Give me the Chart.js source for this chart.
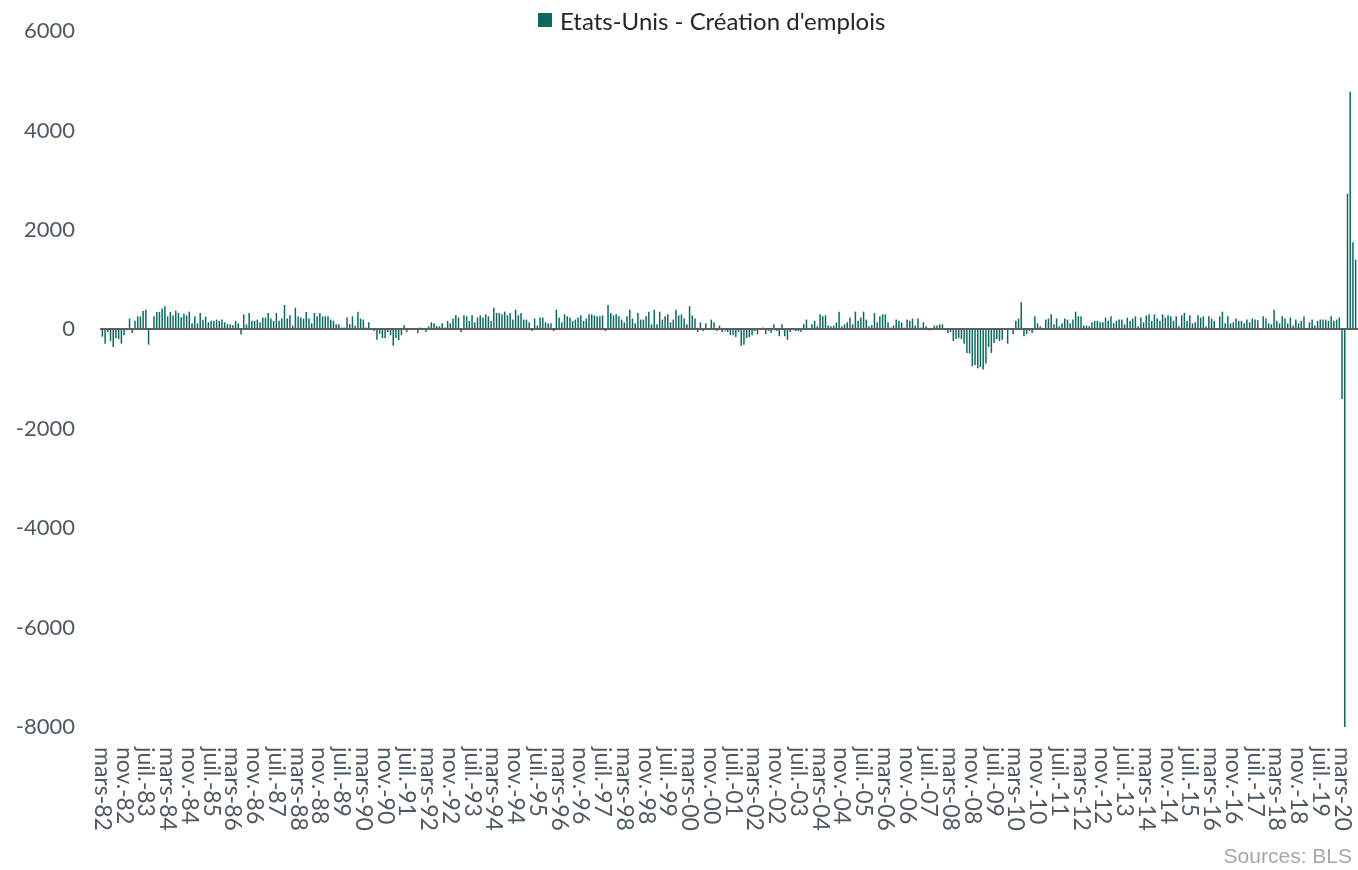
<!DOCTYPE html>
<html lang="fr">
<head>
<meta charset="utf-8">
<title>Etats-Unis - Création d'emplois</title>
<script src="https://cdn.jsdelivr.net/npm/chart.js@4.4.0/dist/chart.umd.min.js"></script>
<style>
  html, body { margin: 0; padding: 0; background: #fff; }
  #cadre { position: relative; width: 1358px; height: 870px; }
  #legende { position: absolute; left: 538px; top: 5px; height: 30px; display: flex; align-items: center;
             font: 24px Lato, sans-serif; color: #262626; white-space: nowrap; }
  #legende .carre { width: 14px; height: 14px; background: #0b6a5f; margin-right: 8px; }
  #source { position: absolute; right: 6px; top: 844px; font: 21px "Liberation Sans", Arial, sans-serif; color: #a6a6a6; }
</style>
</head>
<body>
<div id="cadre">
  <canvas id="graphEmplois" width="1358" height="870"></canvas>
  <div id="legende"><span class="carre"></span>Etats-Unis - Création d'emplois</div>
  <div id="source">Sources: BLS</div>
</div>
<script>
// création d'emplois mensuelle (milliers), de mars-82 à août-20

const creations1982_1988 = [-150, -290, -55, -235, -355, -175, -195, -290, -120, -20, 215, -75, 170, 260, 260, 370, 395, -310, 0, 260,
    350, 350, 420, 465, 260, 350, 280, 375, 330, 240, 310, 280, 355, 120, 260, 120, 330, 190, 255, 140,
    170, 170, 195, 170, 195, 140, 100, 100, 80, 170, 120, -105, 300, 100, 330, 170, 170, 195, 140, 235,
    235, 330, 215, 170, 330, 170, 215, 490, 215, 280, 75, 435, 255, 235, 215, 350, 215, 120, 330]; // mars-82 -> sept.-88

const creations1988_1995 = [260, 330, 260, 260, 260, 195, 170, 100, 100, 35, 35, 235, 100, 260, 75, 355, 215, 195, 35, 140,
    5, -35, -210, -90, -175, -175, -55, -120, -330, -175, -220, -120, 80, -55, -10, 10, -10, -75, 35, 0,
    -55, 60, 140, 120, 60, 60, 120, 35, 170, 120, 215, 280, 235, -55, 280, 260, 170, 280, 140, 235,
    280, 235, 300, 260, 170, 435, 330, 330, 300, 355, 280, 330, 195, 395, 280, 330, 195, 195, 140]; // oct.-88 -> avr.-95

const creations1995_2001 = [-35, 215, 75, 235, 235, 140, 120, 120, -35, 395, 235, 140, 300, 260, 235, 170, 195, 235, 280, 170,
    215, 300, 300, 280, 260, 260, 280, -35, 490, 330, 280, 300, 260, 195, 140, 260, 395, 215, 120, 330,
    195, 195, 260, 355, 100, 395, 100, 355, 195, 260, 300, 140, 195, 395, 280, 300, 215, 100, 465, 280,
    215, -55, 140, -35, 120, 0, 195, 140, -35, 75, -55, -30, -55, -120, -120, -155, -55, -330, -310]; // mai-95 -> nov.-01

const creations2001_2008 = [-175, -155, -120, -35, -100, -5, 35, -100, -35, -75, 100, -35, -140, 100, -140, -210, -55, -10, -35, -35,
    -55, 100, 195, 15, 100, 170, 60, 300, 260, 280, 75, 60, 75, 140, 355, 60, 100, 140, 235, 100,
    355, 170, 235, 355, 195, 60, 85, 330, 140, 260, 300, 300, 140, 35, 75, 195, 170, 140, 35, 195,
    170, 215, 75, 215, 35, 140, 60, -20, -20, 75, 75, 100, 100, -5, -75, -55, -235, -195, -175]; // déc.-01 -> juin-08

const creations2008_2015 = [-195, -290, -475, -490, -745, -720, -785, -760, -810, -690, -355, -475, -275, -195, -235, -210, -10, -290, 10, -100,
    170, 215, 545, -140, -100, -35, -75, 260, 120, 60, 15, 195, 215, 300, 100, 215, 60, 120, 215, 195,
    120, 195, 355, 260, 260, 75, 75, 60, 140, 170, 170, 140, 140, 235, 170, 260, 120, 170, 195, 195,
    100, 235, 170, 215, 260, 60, 235, 140, 280, 300, 170, 300, 215, 170, 300, 235, 280, 260, 170]; // juil.-08 -> janv.-15

const creations2015_2020 = [260, 60, 280, 330, 170, 280, 120, 140, 280, 235, 260, 60, 260, 215, 170, 15, 260, 355, 120, 260,
    120, 140, 215, 170, 170, 120, 195, 140, 215, 195, 180, 15, 260, 215, 120, 100, 395, 170, 120, 260,
    215, 120, 235, 75, 195, 120, 170, 260, 15, 140, 195, 75, 170, 195, 195, 195, 170, 260, 170, 195,
    235, -1400, -8000, 2725, 4780, 1750, 1400]; // févr.-15 -> août-20

const moisFr = ['janv.', 'févr.', 'mars', 'avr.', 'mai', 'juin', 'juil.', 'août', 'sept.', 'oct.', 'nov.', 'déc.'];
const premierMois = 2;        // mars
const premiereAnnee = 1982;
const pasEtiquettes = 8;      // une étiquette tous les 8 mois

const ticksY = [-8000, -6000, -4000, -2000, 0, 2000, 4000, 6000];

const nomSerie = "Etats-Unis - Création d'emplois";
const couleurBarres = '#0b6a5f';
const couleurTexte = '#4f5963';


const creations = [].concat(creations1982_1988, creations1988_1995, creations1995_2001,
    creations2001_2008, creations2008_2015, creations2015_2020);

//libellés "mars-82", "nov.-82", ...
const mois = creations.map(function (v, i) {
    const m = (premierMois + i) % 12;
    const an = premiereAnnee + Math.floor((premierMois + i) / 12);
    return moisFr[m] + '-' + String(an).slice(2);
});


//étiquettes de l'axe x tournées à 90° (lecture de haut en bas), sous la zone du graphique
const etiquettesX = {
    id: 'etiquettesX',
    afterDraw: function (chart) {
        const ctx = chart.ctx;
        const axeX = chart.scales.x;
        const haut = chart.chartArea.bottom + 20;
        ctx.save();
        ctx.font = '23px Lato';
        ctx.fillStyle = couleurTexte;
        ctx.textAlign = 'left';
        ctx.textBaseline = 'middle';
        for (let i = 0; i < mois.length; i += pasEtiquettes) {
            ctx.save();
            ctx.translate(axeX.getPixelForValue(i), haut);
            ctx.rotate(Math.PI / 2);
            ctx.fillText(mois[i], 0, 0);
            ctx.restore();
        }
        ctx.restore();
    }
};


const ctx = document.getElementById('graphEmplois');

const graphEmplois = new Chart(ctx, {
    type: 'bar',
    data: {
        labels: mois,
        datasets: [{
            label: nomSerie,
            data: creations,
            backgroundColor: couleurBarres,
            barPercentage: 0.55,
            categoryPercentage: 1
        }]
    },
    options: {
        responsive: false,
        animation: false,
        layout: { padding: { top: 31, right: 1, bottom: 143, left: 0 } },
        plugins: {
            legend: { display: false },
            tooltip: { enabled: false }
        },
        scales: {
            x: {
                position: { y: 0 },
                grid: { display: false, drawTicks: false },
                ticks: { display: false },
                border: { color: '#5e5e5e', width: 2, z: 1 }
            },
            y: {
                min: ticksY[0],
                max: ticksY[ticksY.length - 1],
                ticks: {
                    stepSize: ticksY[1] - ticksY[0],
                    font: { family: 'Lato', size: 22 },
                    color: couleurTexte,
                    padding: 0,
                    callback: function (v) { return String(v); }
                },
                // marge entre les nombres et la zone de tracé, sans trait visible
                grid: { display: false, drawTicks: true, tickLength: 26 },
                border: { display: false },
                afterFit: function (scale) { scale.width = 101; }
            }
        }
    },
    plugins: [etiquettesX]
});
</script>
</body>
</html>
